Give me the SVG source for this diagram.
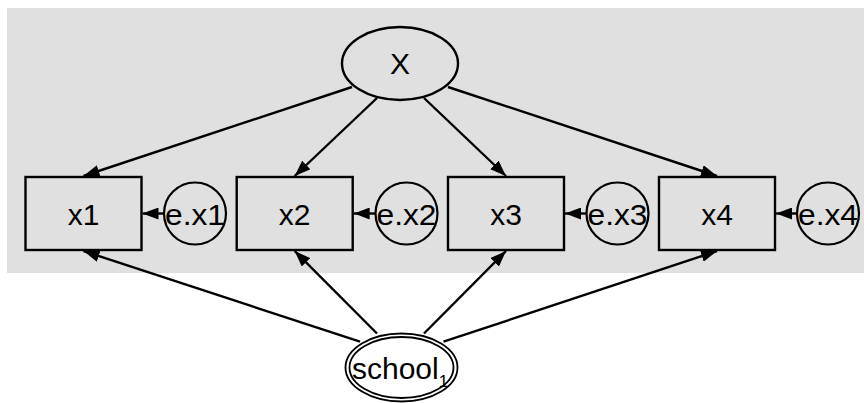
<svg xmlns="http://www.w3.org/2000/svg" width="864" height="403" viewBox="0 0 864 403">
<defs>
<style>
.bg{fill:#e0e0e0;stroke:none}
.box{fill:#e0e0e0;stroke:#000;stroke-width:2.4}
.err{fill:#e0e0e0;stroke:#000;stroke-width:2.2}
.lat{fill:#e0e0e0;stroke:#000;stroke-width:2.4}
.grp{fill:#fff;stroke:#000;stroke-width:1.8}
.lbl{font-family:"Liberation Sans",Arial,sans-serif;font-size:30px;fill:#000}
.sub{font-size:17px}
.edge{stroke:#000;stroke-width:2.4;fill:none;marker-end:url(#ah)}
</style>
<marker id="ah" markerUnits="userSpaceOnUse" markerWidth="16" markerHeight="12" refX="16" refY="6" orient="auto">
<path d="M0,0 L16,6 L0,12 z" fill="#000"/>
</marker>
</defs>
<rect class="bg" x="7" y="8" width="857" height="265"/>
<g id="connectors">
<line class="edge" x1="352" y1="87" x2="83.5" y2="176"/>
<line class="edge" x1="377" y1="98" x2="294.7" y2="176"/>
<line class="edge" x1="424" y1="98" x2="506" y2="176"/>
<line class="edge" x1="448" y1="87" x2="717" y2="176"/>
<line class="edge" x1="164" y1="213.5" x2="142.5" y2="213.5"/>
<line class="edge" x1="375.5" y1="213.5" x2="353.7" y2="213.5"/>
<line class="edge" x1="586.5" y1="213.5" x2="565" y2="213.5"/>
<line class="edge" x1="797" y1="213.5" x2="776" y2="213.5"/>
<line class="edge" x1="360" y1="341.7" x2="83.5" y2="251"/>
<line class="edge" x1="377" y1="333.5" x2="294.7" y2="251"/>
<line class="edge" x1="424" y1="333.5" x2="506" y2="251"/>
<line class="edge" x1="443.5" y1="341.7" x2="717" y2="251"/>
</g>
<g id="X">
<ellipse class="lat" cx="400" cy="63.5" rx="58" ry="36.5"/>
<text class="lbl" x="400" y="74" text-anchor="middle">X</text>
</g>
<g id="x1">
<rect class="box" x="25.5" y="177" width="116" height="73"/>
<text class="lbl" x="83.5" y="224.5" text-anchor="middle">x1</text>
</g>
<g id="x2">
<rect class="box" x="236.7" y="177" width="116" height="73"/>
<text class="lbl" x="294.7" y="224.5" text-anchor="middle">x2</text>
</g>
<g id="x3">
<rect class="box" x="448" y="177" width="116" height="73"/>
<text class="lbl" x="506" y="224.5" text-anchor="middle">x3</text>
</g>
<g id="x4">
<rect class="box" x="659" y="177" width="116" height="73"/>
<text class="lbl" x="717" y="224.5" text-anchor="middle">x4</text>
</g>
<g id="e.x1">
<circle class="err" cx="195" cy="213.5" r="31"/>
<text class="lbl" x="195" y="224.5" text-anchor="middle" textLength="60" lengthAdjust="spacingAndGlyphs">e.x1</text>
</g>
<g id="e.x2">
<circle class="err" cx="406.5" cy="213.5" r="31"/>
<text class="lbl" x="406.5" y="224.5" text-anchor="middle" textLength="60" lengthAdjust="spacingAndGlyphs">e.x2</text>
</g>
<g id="e.x3">
<circle class="err" cx="617.5" cy="213.5" r="31"/>
<text class="lbl" x="617.5" y="224.5" text-anchor="middle" textLength="60" lengthAdjust="spacingAndGlyphs">e.x3</text>
</g>
<g id="e.x4">
<circle class="err" cx="828" cy="213.5" r="31"/>
<text class="lbl" x="828" y="224.5" text-anchor="middle" textLength="60" lengthAdjust="spacingAndGlyphs">e.x4</text>
</g>
<g id="school1">
<ellipse class="grp" cx="401.5" cy="367.5" rx="56" ry="34"/>
<ellipse class="grp" cx="401.5" cy="367.5" rx="52" ry="30.5"/>
<text class="lbl" x="352" y="379">school<tspan class="sub" dy="8">1</tspan></text>
</g>
</svg>
